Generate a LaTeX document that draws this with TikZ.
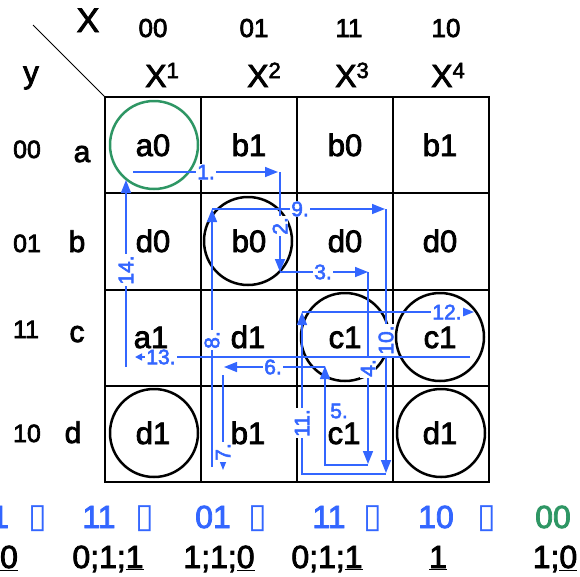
\documentclass[tikz,border=0pt]{standalone}
\usepackage{fontspec}
\setmainfont{Liberation Sans}
\newfontfamily\hv{Liberation Sans}[FakeBold=2.6]
\newfontfamily\symfont{DejaVu Sans}
\usetikzlibrary{arrows.meta}
\definecolor{kblue}{RGB}{51,102,255}
\definecolor{kgreen}{RGB}{46,150,100}
\newcommand{\supnum}[1]{\raisebox{9pt}{\fontsize{22}{22}\selectfont #1}}
\begin{document}
\begin{tikzpicture}[x=1pt,y=-1pt,
  cell/.style={font=\hv\fontsize{31}{33}\selectfont, anchor=base, inner sep=0pt},
  rowlbl/.style={font=\hv\fontsize{30}{32}\selectfont, anchor=base, inner sep=0pt},
  rownum/.style={font=\hv\fontsize{25}{27}\selectfont, anchor=base, inner sep=0pt},
  colnum/.style={font=\hv\fontsize{26}{28}\selectfont, anchor=base, inner sep=0pt},
  colvar/.style={font=\hv\fontsize{32}{34}\selectfont, anchor=base, inner sep=0pt},
  ring/.style={circle, draw=black, line width=2.5pt, minimum size=88pt, inner sep=0pt},
  gridline/.style={line width=1.8pt},
  flow/.style={kblue, line width=1.5pt, -{Triangle[length=13pt,width=10pt]}},
  lbl/.style={kblue, fill=white, inner sep=1pt, font=\hv\fontsize{21}{21}\selectfont},
  rlbl/.style={lbl, rotate=90},
  bot/.style={font=\hv\fontsize{32}{34}\selectfont, anchor=base, inner sep=0pt},
  tofu/.style={kblue, font=\symfont\fontsize{34}{36}\selectfont, anchor=base, inner sep=0pt}
]
\useasboundingbox (0,0) rectangle (580,576);
% header
\node[font=\hv\fontsize{34}{36}\selectfont, anchor=base, inner sep=0pt] (hx) at (88,32) {X};
\node[font=\hv\fontsize{31}{33}\selectfont, anchor=base, inner sep=0pt] (hy) at (31,83) {y};
\coordinate (dgA) at (33,25);
\coordinate (dgB) at (105,97);
\draw[line width=1pt] (dgA) -- (dgB);
\node[colnum] (c1) at (153,37) {00};
\node[colnum] (c2) at (254,37) {01};
\node[colnum] (c3) at (349,37) {11};
\node[colnum] (c4) at (446,37) {10};
\node[colvar] (v1) at (162,87) {X\supnum{1}};
\node[colvar] (v2) at (264,87) {X\supnum{2}};
\node[colvar] (v3) at (352,87) {X\supnum{3}};
\node[colvar] (v4) at (448,87) {X\supnum{4}};
% row labels
\node[rownum] (r1) at (27,158) {00};
\node[rownum] (r2) at (27,252) {01};
\node[rownum] (r3) at (26,338) {11};
\node[rownum] (r4) at (27,442) {10};
\node[rowlbl] (l1) at (82,162) {a};
\node[rowlbl] (l2) at (77,252) {b};
\node[rowlbl] (l3) at (77,342) {c};
\node[rowlbl] (l4) at (73,443) {d};
% grid
\draw[gridline] (105,97) rectangle (489,482);
\draw[gridline] (201,97) -- (201,482);
\draw[gridline] (297,97) -- (297,482);
\draw[gridline] (393,97) -- (393,482);
\draw[gridline] (105,193) -- (489,193);
\draw[gridline] (105,290) -- (489,290);
\draw[gridline] (105,386) -- (489,386);
% cells
\node[cell] (a11) at (153,156) {a0};
\node[cell] (a12) at (249,156) {b1};
\node[cell] (a13) at (345,156) {b0};
\node[cell] (a14) at (440,156) {b1};
\node[cell] (a21) at (153,252) {d0};
\node[cell] (a22) at (249,252) {b0};
\node[cell] (a23) at (345,252) {d0};
\node[cell] (a24) at (440,252) {d0};
\node[cell] (a31) at (151,348) {a1};
\node[cell] (a32) at (248,348) {d1};
\node[cell] (a33) at (345,348) {c1};
\node[cell] (a34) at (440,348) {c1};
\node[cell] (a41) at (153,444) {d1};
\node[cell] (a42) at (248,444) {b1};
\node[cell] (a43) at (344,444) {c1};
\node[cell] (a44) at (440,444) {d1};
% rings
\node[ring, draw=kgreen] (o1) at (154,145) {};
\node[ring] (o2) at (248,241) {};
\node[ring] (o3) at (345,337) {};
\node[ring] (o4) at (440,337) {};
\node[ring] (o5) at (441,433) {};
\node[ring] (o6) at (154,433) {};
% waypoints
\coordinate (p1s) at (133,172);
\coordinate (p1e) at (278,172);
\coordinate (p2s) at (280,172);
\coordinate (p2e) at (280,272);
\coordinate (p3e) at (368,272);
\coordinate (p4e) at (368,464);
\coordinate (p5s) at (368,465);
\coordinate (p5m) at (325,465);
\coordinate (p5e) at (325,366);
\coordinate (p6s) at (325,367);
\coordinate (p6e) at (224,367);
\coordinate (p7s) at (223,375);
\coordinate (p7e) at (223,470);
\coordinate (p8s) at (212,467);
\coordinate (p8e) at (212,209);
\coordinate (p9e) at (385,209);
\coordinate (p10s) at (386,209);
\coordinate (p10e) at (386,473);
\coordinate (p11s) at (386,474);
\coordinate (p11m) at (302,474);
\coordinate (p11e) at (302,312);
\coordinate (p12e) at (474,312);
\coordinate (p13s) at (470,357);
\coordinate (p13e) at (135,357);
\coordinate (p14s) at (126,367);
\coordinate (p14e) at (126,180);
% flows
\draw[flow] (p1s) -- (p1e);
\draw[flow] (p2s) -- (p2e);
\draw[flow] (p2e) -- (p3e);
\draw[flow] (p3e) -- (p4e);
\draw[flow] (p5s) -- (p5m) -- (p5e);
\draw[flow] (p6s) -- (p6e);
\draw[flow] (p7s) -- (p7e);
\draw[flow] (p8s) -- (p8e);
\draw[flow] (p8e) -- (p9e);
\draw[flow] (p10s) -- (p10e);
\draw[flow] (p11s) -- (p11m) -- (p11e);
\draw[flow] (p11e) -- (p12e);
\draw[kblue, line width=1.5pt, -{Triangle[length=7pt,width=7pt]}] (p13s) -- (p13e);
\draw[flow] (p14s) -- (p14e);
% labels
\node[lbl] (t1) at (206,172) {1.};
\node[rlbl] (t2) at (280,226) {2.};
\node[lbl] (t3) at (323,272) {3.};
\node[rlbl] (t4) at (368,368) {4.};
\node[lbl, fill=none] (t5) at (339,411) {5.};
\node[lbl] (t6) at (273,367) {6.};
\node[rlbl] (t7) at (223,452) {7.};
\node[rlbl] (t8) at (212,340) {8.};
\node[lbl] (t9) at (300,209) {9.};
\node[rlbl] (t10) at (386,340) {10.};
\node[rlbl] (t11) at (302,423) {11.};
\node[lbl] (t12) at (447,312) {12.};
\node[lbl] (t13) at (161,357) {13.};
\node[rlbl] (t14) at (126,270) {14.};
% bottom sequence
\node[bot, kblue] (s1) at (0,528) {1};
\node[tofu] (q1) at (38,527) {▯};
\node[bot, kblue] (s2) at (99,528) {11};
\node[tofu] (q2) at (145,527) {▯};
\node[bot, kblue] (s3) at (213,528) {01};
\node[tofu] (q3) at (258,527) {▯};
\node[bot, kblue] (s4) at (329,528) {11};
\node[tofu] (q4) at (373,527) {▯};
\node[bot, kblue] (s5) at (436,528) {10};
\node[tofu] (q5) at (487,527) {▯};
\node[bot, kgreen] (s6) at (553,528) {00};
\node[bot] (b1) at (9,568) {\underline{0}};
\node[bot] (b2) at (108,568) {0;1;\underline{1}};
\node[bot] (b3) at (219,568) {1;1;\underline{0}};
\node[bot] (b4) at (327,568) {0;1;\underline{1}};
\node[bot] (b5) at (438,568) {\underline{1}};
\node[bot] (b6) at (555,568) {1;\underline{0}};
\end{tikzpicture}
\end{document}
